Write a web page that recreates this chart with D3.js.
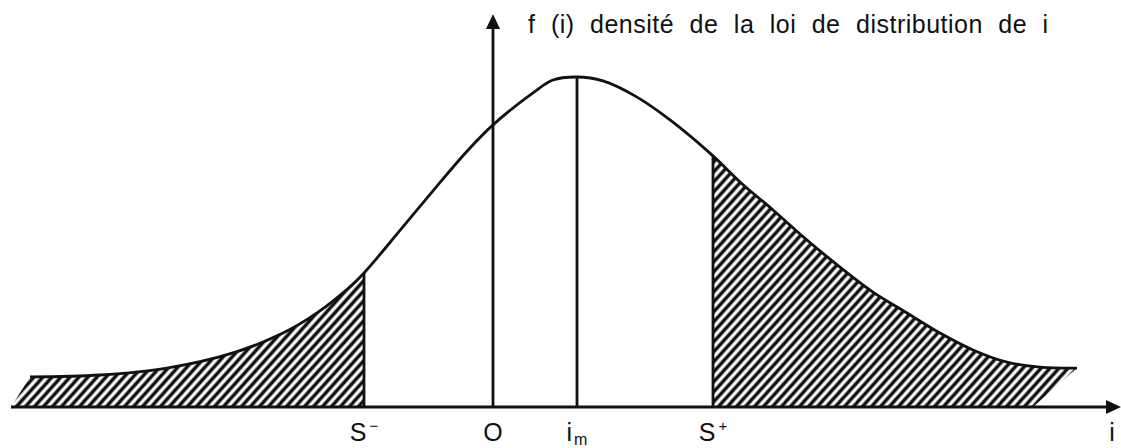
<!DOCTYPE html>
<html>
<head>
<meta charset="utf-8">
<script src="https://cdn.jsdelivr.net/npm/d3@7"></script>
<style>
  body { margin: 0; background: #fff; }
  text { font-family: "Liberation Sans", Arial, Helvetica, sans-serif; fill: #111; }
</style>
</head>
<body>
<div id="chart"></div>
<script>
const width = 1121;
const height = 448;

// density curve (i in arbitrary units, O = 0; f normalised to the peak)
const curveI = [-46.3, -39.3, -32.6, -26.0, -21.0, -17.6, -14.3, -12.9, -9.3, -6.0, -2.6, 0, 4.0, 6.0, 8.4,
  11.0, 14.4, 17.7, 22.0, 24.7, 28.0, 31.4, 34.7, 38.0, 41.4, 44.7, 48.0, 51.4, 54.7, 58.4];
const curveF = [0.091, 0.097, 0.118, 0.164, 0.224, 0.285, 0.364, 0.406, 0.535, 0.655, 0.775, 0.855, 0.952, 0.991, 1.0,
  0.988, 0.939, 0.870, 0.761, 0.682, 0.597, 0.506, 0.424, 0.348, 0.285, 0.224, 0.173, 0.136, 0.121, 0.118];

// marked positions on the i axis
const markNames = ["S-", "O", "im", "S+", "i"];
const markValues = [-12.9, 0, 8.4, 22.0, 61.9];

// feet of the hatched tails on the axis
const hatchFootLeft = -48.2;
const hatchFootRight = 54.0;

const title = "f (i) densité de la loi de distribution de i";

const data = curveI.map((v, k) => ({ i: v, f: curveF[k] }));
const sMinus = markValues[0], im = markValues[2], sPlus = markValues[3];
const fAt = v => data.find(d => d.i === v).f;

const x = d3.scaleLinear().domain([-48.2, 62.8]).range([11, 1121]);
const y = d3.scaleLinear().domain([0, 1]).range([407, 77]);
const smooth = d3.curveCatmullRom.alpha(0.5);

const svg = d3.select("#chart")
  .append("svg")
  .attr("width", width)
  .attr("height", height);

// hatch pattern
const angle = 48;
const spacing = 9 * Math.sin(angle * Math.PI / 180);
const pat = svg.append("defs").append("pattern")
  .attr("id", "hatch")
  .attr("patternUnits", "userSpaceOnUse")
  .attr("width", spacing)
  .attr("height", 20)
  .attr("patternTransform", `rotate(${90 - angle})`);
pat.append("line")
  .attr("x1", spacing / 2).attr("x2", spacing / 2)
  .attr("y1", -2).attr("y2", 22)
  .attr("stroke", "#111")
  .attr("stroke-width", 3.5);

// hatched tails
const leftTail = data.filter(d => d.i <= sMinus);
const rightTail = data.filter(d => d.i >= sPlus);

const tailArea = (first, last) => d3.area()
  .curve(smooth)
  .x0((d, k, arr) => k === 0 && first != null ? x(first) : (k === arr.length - 1 && last != null ? x(last) : x(d.i)))
  .x1(d => x(d.i))
  .y0(y(0))
  .y1(d => y(d.f));

svg.append("path")
  .datum(leftTail)
  .attr("fill", "url(#hatch)")
  .attr("d", tailArea(hatchFootLeft, null));

svg.append("path")
  .datum(rightTail)
  .attr("fill", "url(#hatch)")
  .attr("d", tailArea(null, hatchFootRight));

// vertical lines at S-, im, S+
svg.selectAll(".mark")
  .data([sMinus, im, sPlus])
  .enter()
  .append("line")
  .attr("class", "mark")
  .attr("x1", d => x(d)).attr("x2", d => x(d))
  .attr("y1", y(0))
  .attr("y2", d => y(fAt(d)))
  .attr("stroke", "#111")
  .attr("stroke-width", 2.8);

// density curve
svg.append("path")
  .datum(data)
  .attr("fill", "none")
  .attr("stroke", "#111")
  .attr("stroke-width", 2.8)
  .attr("d", d3.line().curve(smooth).x(d => x(d.i)).y(d => y(d.f)));

// i axis
const xAxis = d3.axisBottom(x).tickValues([]).tickSizeOuter(0);
const gx = svg.append("g")
  .attr("transform", `translate(0, ${y(0)})`)
  .call(xAxis);
gx.select(".domain").attr("stroke", "#111").attr("stroke-width", 2.8)
  .attr("d", `M${x(hatchFootLeft)},0H${width - 12}`);
svg.append("path")
  .attr("d", `M${width},${y(0)}l-15,-7v14z`)
  .attr("fill", "#111");

// f axis
const yAxis = d3.axisLeft(y).tickValues([]).tickSizeOuter(0);
const gy = svg.append("g")
  .attr("transform", `translate(${x(0)}, 0)`)
  .call(yAxis);
gy.select(".domain").attr("stroke", "#111").attr("stroke-width", 2.8)
  .attr("d", `M0,${y(0)}V26`);
svg.append("path")
  .attr("d", `M${x(0)},14l-7,15h14z`)
  .attr("fill", "#111");

// axis labels
const labels = svg.selectAll(".lab")
  .data(markNames.map((n, k) => ({ n, v: markValues[k] })))
  .enter()
  .append("text")
  .attr("class", "lab")
  .attr("x", d => x(d.v))
  .attr("y", 441)
  .attr("text-anchor", "middle")
  .style("font-size", "25px");

labels.each(function(d) {
  const t = d3.select(this);
  if (d.n === "S-" || d.n === "S+") {
    t.append("tspan").text("S");
    t.append("tspan").attr("dx", 3).attr("dy", -10).style("font-size", "15px")
      .text(d.n === "S-" ? "\u2212" : "+");
  } else if (d.n === "im") {
    t.append("tspan").text("i");
    t.append("tspan").attr("dx", 2).attr("dy", 4).style("font-size", "16px").text("m");
  } else {
    t.text(d.n);
  }
});

svg.append("text")
  .attr("x", 528)
  .attr("y", 33)
  .style("font-size", "25px")
  .style("word-spacing", "8px")
  .style("letter-spacing", "0.5px")
  .text(title);
</script>
</body>
</html>
